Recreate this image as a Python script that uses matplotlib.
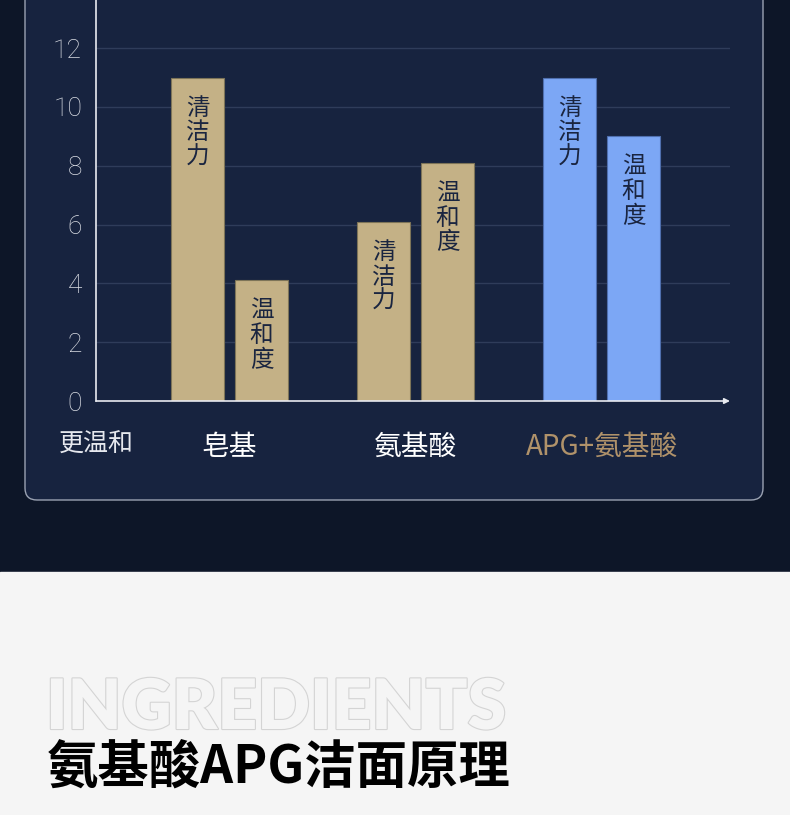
import numpy as np
import matplotlib
matplotlib.use("Agg")
import matplotlib.pyplot as plt
from matplotlib.patches import FancyBboxPatch, Rectangle
import matplotlib.patheffects as pe

plt.rcParams['font.family'] = ['Noto Sans CJK SC', 'DejaVu Sans']

# ---- data ----
groups = ['皂基', '氨基酸', 'APG+氨基酸']
cleaning = [11.0, 6.1, 11.0]       # 清洁力
mildness = [4.1, 8.1, 9.0]         # 温和度
bar_colors = ['#c4b186', '#c4b186', '#7ca7f5']
label_colors = ['#ffffff', '#ffffff', '#b0926a']
yticks = [0, 2, 4, 6, 8, 10, 12]

W, H = 790, 815
fig = plt.figure(figsize=(W / 100, H / 100), dpi=100)
fig.patch.set_facecolor('#0d1628')

# background pieces (figure pixel coords)
bg = fig.add_axes([0, 0, 1, 1])
bg.set_xlim(0, W)
bg.set_ylim(H, 0)
bg.axis('off')
bg.add_patch(Rectangle((0, 0), W, 572, color='#0d1628', zorder=0))
bg.add_patch(Rectangle((0, 572), W, H - 572, color='#f5f5f5', zorder=0))
bg.add_patch(FancyBboxPatch((25, -40), 738, 540,
                            boxstyle="round,pad=0,rounding_size=12",
                            facecolor='#17233f', edgecolor='#9aa2b2',
                            linewidth=1.0, zorder=1))

# outlined watermark + title
bg.text(46, 729, 'INGREDIENTS', fontsize=50, family=['Lato', 'DejaVu Sans'],
        fontweight='heavy', color='#f5f5f5', va='baseline', ha='left', zorder=2,
        path_effects=[pe.withStroke(linewidth=1.6, foreground='#d4d4d4')])
bg.text(47, 767, '氨基酸APG洁面原理', fontsize=37, fontweight='bold',
        color='#000000', va='center', ha='left', zorder=2)

# ---- chart ----
ax = fig.add_axes([96 / W, 1 - 401 / H, (730 - 96) / W, 401 / H])
ax.set_facecolor('none')
x = np.arange(len(groups))
bw = 0.285
off = 0.172
ax.set_xlim(-0.718, 2.69)
ax.set_ylim(0, 401 / 29.4)

edge = ['#7d7458', '#7d7458', '#4f6fae']
b1 = ax.bar(x - off, cleaning, bw, color=bar_colors, edgecolor=edge, linewidth=0.8, zorder=3)
b2 = ax.bar(x + off, mildness, bw, color=bar_colors, edgecolor=edge, linewidth=0.8, zorder=3)

for bars, word in [(b1, '清洁力'), (b2, '温和度')]:
    for rect in bars:
        ax.annotate('\n'.join(word),
                    xy=(rect.get_x() + rect.get_width() / 2, rect.get_height()),
                    xytext=(0, -14), textcoords='offset points',
                    ha='center', va='top', fontsize=17, color='#1a2540',
                    linespacing=1.08, zorder=4)

ax.set_yticks(yticks)
ax.set_yticklabels([str(t) for t in yticks], fontsize=19, color='#dadde4',
                   family=['Roboto', 'DejaVu Sans'], fontweight='light')
ax.tick_params(axis='y', length=0, pad=10)
for t in yticks[1:]:
    ax.axhline(t, color='#2f3c5a', linewidth=1.0, zorder=1)

ax.set_xticks(x)
ax.set_xticklabels(groups, fontsize=20, fontweight='medium')
for lbl, c in zip(ax.get_xticklabels(), label_colors):
    lbl.set_color(c)
ax.tick_params(axis='x', length=0, pad=22)

ax.text(-0.718, -44 / 29.4, '更温和', fontsize=18, color='#e6e8ee',
        ha='center', va='center')

for s in ['top', 'right', 'bottom']:
    ax.spines[s].set_visible(False)
ax.spines['left'].set_color('#e8eaf0')
ax.spines['left'].set_linewidth(1.2)
ax.annotate('', xy=(1.0, 0), xytext=(0, 0), xycoords='axes fraction',
            arrowprops=dict(arrowstyle='-|>', color='#e8eaf0', lw=1.2,
                            mutation_scale=8, shrinkA=0, shrinkB=0))

fig.savefig('out.png', dpi=100, facecolor=fig.get_facecolor())
